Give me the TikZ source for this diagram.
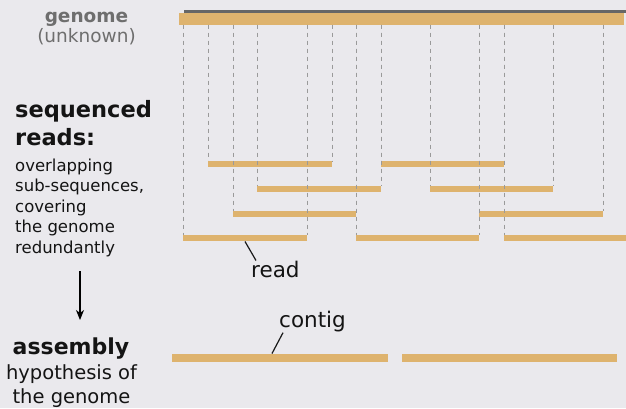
\documentclass[tikz,border=0pt]{standalone}
\usepackage{fontspec}
\setmainfont{DejaVu Sans}
\usetikzlibrary{arrows.meta}
\definecolor{bgc}{HTML}{EAE9ED}
\definecolor{barc}{HTML}{DEB36E}
\definecolor{dashc}{HTML}{9A9A9A}
\definecolor{graytext}{HTML}{6E6E6E}
\definecolor{genline}{HTML}{666666}
\begin{document}
\begin{tikzpicture}[x=1pt,y=-1pt,
  lbl/.style={inner sep=0pt, text=black!92},
  bigbold/.style={lbl, font=\bfseries\fontsize{22.5}{27}\selectfont},
  small/.style={lbl, font=\fontsize{16.5}{20}\selectfont},
  mid/.style={lbl, font=\fontsize{19.5}{23}\selectfont},
  callout/.style={lbl, font=\fontsize{21.5}{25}\selectfont},
  guide/.style={draw=dashc, line width=0.9pt, dash pattern=on 4pt off 4pt},
  leader/.style={draw=black!90, line width=1.2pt},
  readfill/.style={fill=barc}]
\fill[bgc] (0,0) rectangle (626,408);
\useasboundingbox (0,0) rectangle (626,408);

% genome
\fill[genline] (184,10) rectangle (626,13);
\fill[barc] (179,13) rectangle (624,24.5);
\node[lbl, anchor=base, text=graytext, font=\bfseries\fontsize{18.5}{22}\selectfont] (genome) at (86.5,22) {genome};
\node[lbl, anchor=base, text=graytext, font=\fontsize{18.5}{22}\selectfont] (unknown) at (86.5,42) {(unknown)};

% reads
\foreach \s/\e/\y in {208/332/164, 381/504/164,
                      257/381/189, 430/553/189,
                      233/356/213.5, 479/603/213.5,
                      183/307/238, 356/479/238}{
  \draw[guide] (\s,24.5) -- (\s,\y-3);
  \draw[guide] (\e,24.5) -- (\e,\y-3);
  \fill[barc] (\s,\y-3) rectangle (\e,\y+3);
}
\draw[guide] (504,24.5) -- (504,235);
\fill[barc] (504,235) rectangle (626,241);

% read label
\coordinate (readpt) at (245,241.5);
\node[callout, anchor=base west] (readlbl) at (251,277) {read};
\draw[leader] (readpt) -- ([xshift=5pt]readlbl.north west);

% left text
\node[bigbold, anchor=base west] (seq) at (15,117) {sequenced};
\node[bigbold, anchor=base west] (reads) at (15,145.5) {reads:};
\node[small, anchor=base west] (l1) at (15,171) {overlapping};
\node[small, anchor=base west] (l2) at (15,191.5) {sub-sequences,};
\node[small, anchor=base west] (l3) at (15,212) {covering};
\node[small, anchor=base west] (l4) at (15,232.5) {the genome};
\node[small, anchor=base west] (l5) at (15,253) {redundantly};

% arrow
\coordinate (arrs) at (80,271);
\coordinate (arre) at (80,320);
\draw[line width=1.4pt, -{Stealth[length=10pt,width=8pt,inset=3pt]}] (arrs) -- (arre);

% assembly text
\node[lbl, anchor=base, font=\bfseries\fontsize{22}{26}\selectfont] (asm) at (71,354) {assembly};
\node[mid, anchor=base] (hyp) at (71.5,379) {hypothesis of};
\node[mid, anchor=base] (thg) at (71.5,403) {the genome};

% contigs
\fill[barc] (172,354) rectangle (388,362);
\fill[barc] (402,354) rectangle (617,362);
\coordinate (contigpt) at (272,353.5);
\node[callout, anchor=base west] (contiglbl) at (279,327) {contig};
\draw[leader] (contigpt) -- ([xshift=4pt,yshift=-1pt]contiglbl.south west);
\end{tikzpicture}
\end{document}
